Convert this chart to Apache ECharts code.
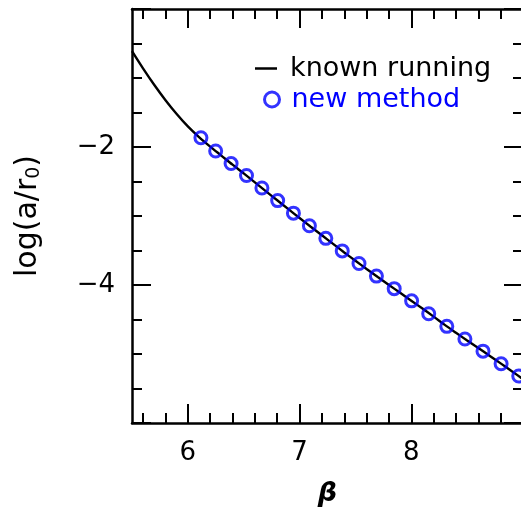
<!DOCTYPE html>
<html>
<head>
<meta charset="utf-8">
<script src="https://cdn.jsdelivr.net/npm/echarts@6/dist/echarts.min.js"></script>
<style>
  html, body { margin: 0; padding: 0; background: #fff; }
  #chart { width: 521px; height: 508px; }
</style>
</head>
<body>
<div id="chart"></div>
<script>
// Known running of the lattice spacing: beta grid and log(a/r0)
const betaKnown = [5.5, 5.6, 5.7, 5.8, 5.9, 6.0, 6.1, 6.2, 6.3, 6.4, 6.5, 6.6, 6.7, 6.8,
  6.9, 7.0, 7.1, 7.2, 7.3, 7.4, 7.5, 7.6, 7.7, 7.8, 7.9, 8.0, 8.1, 8.2, 8.3, 8.4, 8.5,
  8.6, 8.7, 8.8, 8.9, 9.0];
const logKnown = [-0.61, -0.863, -1.101, -1.321, -1.521, -1.701, -1.856, -1.994, -2.125, -2.256,
  -2.382, -2.512, -2.643, -2.772, -2.901, -3.029, -3.156, -3.280, -3.404, -3.528, -3.649,
  -3.768, -3.885, -3.999, -4.113, -4.227, -4.342, -4.458, -4.578, -4.692, -4.804, -4.913,
  -5.024, -5.136, -5.249, -5.365];

// Results of the new method
const betaNew = [6.117, 6.249, 6.387, 6.525, 6.663, 6.804, 6.945, 7.088, 7.235, 7.382,
  7.532, 7.688, 7.847, 8.003, 8.156, 8.318, 8.480, 8.642, 8.804, 8.962];
const logNew = [-1.866, -2.058, -2.240, -2.413, -2.595, -2.777, -2.959, -3.141, -3.324,
  -3.506, -3.688, -3.871, -4.053, -4.230, -4.417, -4.599, -4.782, -4.959, -5.141, -5.319];

// Axis ticks
const xMajor = [6, 7, 8];
const xMinor = [5.6, 5.8, 6.2, 6.4, 6.6, 6.8, 7.2, 7.4, 7.6, 7.8, 8.2, 8.4, 8.6, 8.8];
const xRange = [5.5, 9];
const yRange = [-6, 0];

const seriesNames = ['known running', 'new method'];

const FONT = '"DejaVu Sans", sans-serif';
const AXIS_W = 2.5;
const BLUE = '#0000ff';

function xAxisDef(pos, ticks, len, labels, line) {
  return {
    type: 'value', position: pos, min: xRange[0], max: xRange[1],
    axisLine: { show: line, onZero: false, lineStyle: { color: '#000', width: AXIS_W } },
    axisTick: { show: true, inside: true, length: len, customValues: ticks,
      lineStyle: { color: '#000', width: 2 } },
    axisLabel: labels ? { show: true, customValues: ticks, margin: 17,
      color: '#000', fontSize: 26, fontFamily: FONT } : { show: false },
    splitLine: { show: false }
  };
}

function yAxisDef(pos, labels) {
  return {
    type: 'value', position: pos, min: yRange[0], max: yRange[1], interval: 2,
    axisLine: { show: true, onZero: false, lineStyle: { color: '#000', width: AXIS_W } },
    axisTick: { show: true, inside: true, length: 19, lineStyle: { color: '#000', width: 2 } },
    minorTick: { show: true, splitNumber: 4, length: 10, lineStyle: { color: '#000', width: 2 } },
    axisLabel: labels ? {
      show: true, margin: 17, color: '#000', fontSize: 26, fontFamily: FONT,
      showMinLabel: false, showMaxLabel: false,
      formatter: v => String(v).replace('-', '\u2212')
    } : { show: false },
    splitLine: { show: false }, minorSplitLine: { show: false }
  };
}

const chart = echarts.init(document.getElementById('chart'), null, { renderer: 'canvas' });

chart.setOption({
  animation: false,
  backgroundColor: '#fff',
  grid: { left: 132, top: 9, width: 391, height: 414, containLabel: false, outerBoundsMode: 'none' },
  legend: [
    {
      left: 255, top: 55, padding: 0, itemWidth: 22, itemHeight: 2.5, icon: 'rect',
      itemStyle: { color: '#000', borderWidth: 0 },
      textStyle: { fontFamily: FONT, fontSize: 27, color: '#000', padding: [0, 0, 0, 8] },
      data: [seriesNames[0]]
    },
    {
      left: 263, top: 86, padding: 0, itemWidth: 15, itemHeight: 15, icon: 'circle',
      itemStyle: { color: 'rgba(0,0,0,0)', borderColor: BLUE, borderWidth: 3 },
      textStyle: { fontFamily: FONT, fontSize: 27, color: BLUE, padding: [0, 0, 0, 7] },
      data: [seriesNames[1]]
    }
  ],
  xAxis: [
    Object.assign(xAxisDef('bottom', xMajor, 19, true, true), {
      name: 'β', nameLocation: 'middle', nameGap: 57,
      nameTextStyle: { fontFamily: FONT, fontSize: 27, fontWeight: 'bold', fontStyle: 'italic', color: '#000' }
    }),
    xAxisDef('bottom', xMinor, 10, false, false),
    xAxisDef('top', xMajor, 19, false, true),
    xAxisDef('top', xMinor, 10, false, false)
  ],
  yAxis: [
    Object.assign(yAxisDef('left', true), {
      name: '{m|log(a/r}{s|0}{m|)}', nameLocation: 'middle', nameGap: 88, nameRotate: 90,
      nameTextStyle: {
        rich: {
          m: { fontFamily: FONT, fontSize: 30, color: '#000' },
          s: { fontFamily: FONT, fontSize: 19, color: '#000', padding: [13, 0, 0, 0] }
        }
      }
    }),
    yAxisDef('right', false)
  ],
  series: [
    {
      name: seriesNames[0], type: 'line', xAxisIndex: 0, yAxisIndex: 0,
      data: betaKnown.map((b, i) => [b, logKnown[i]]),
      smooth: 0.3, symbol: 'none', showSymbol: false,
      lineStyle: { color: '#000', width: 2.4 },
      itemStyle: { color: '#000' },
      z: 2
    },
    {
      name: seriesNames[1], type: 'scatter', xAxisIndex: 0, yAxisIndex: 0,
      data: betaNew.map((b, i) => [b, logNew[i]]),
      symbol: 'circle', symbolSize: 12,
      itemStyle: { color: 'rgba(0,0,0,0)', borderColor: BLUE, borderWidth: 3 },
      z: 3
    }
  ]
});
</script>
</body>
</html>
